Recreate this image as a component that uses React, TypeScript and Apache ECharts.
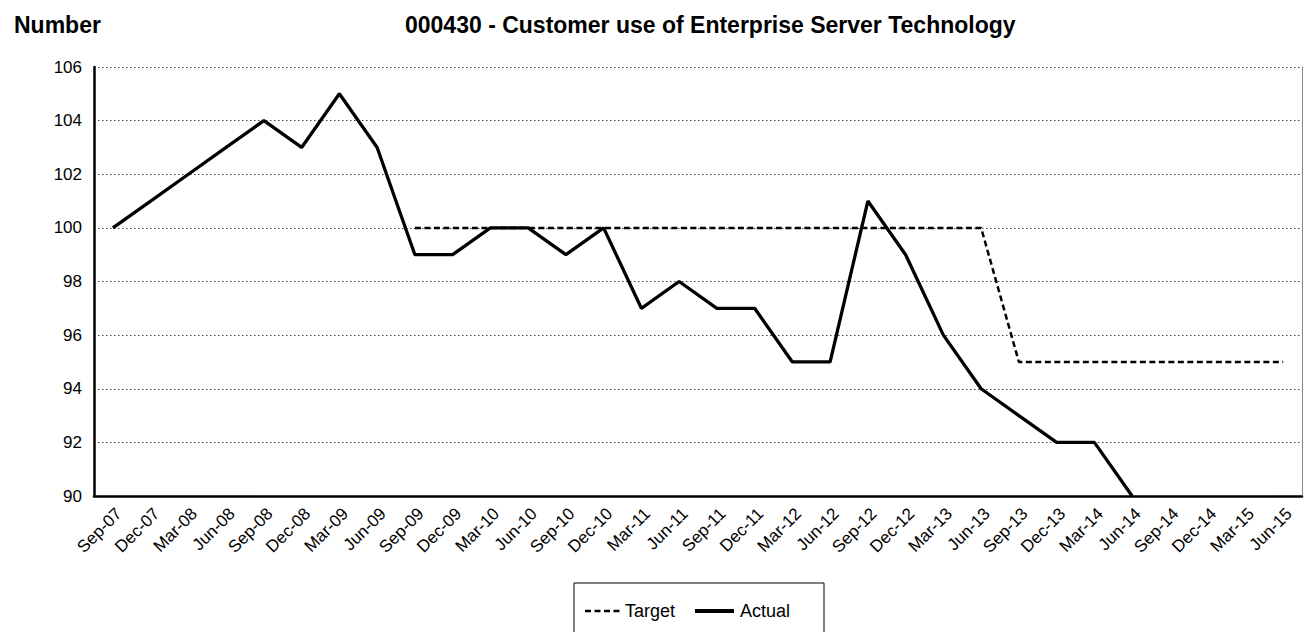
import React, { useEffect, useRef } from "react";
import * as echarts from "echarts";

const categories = [
  "Sep-07", "Dec-07", "Mar-08", "Jun-08", "Sep-08", "Dec-08", "Mar-09", "Jun-09",
  "Sep-09", "Dec-09", "Mar-10", "Jun-10", "Sep-10", "Dec-10", "Mar-11", "Jun-11",
  "Sep-11", "Dec-11", "Mar-12", "Jun-12", "Sep-12", "Dec-12", "Mar-13", "Jun-13",
  "Sep-13", "Dec-13", "Mar-14", "Jun-14", "Sep-14", "Dec-14", "Mar-15", "Jun-15",
];

const targetValues: (number | null)[] = [
  null, null, null, null, null, null, null, null,
  100, 100, 100, 100, 100, 100, 100, 100,
  100, 100, 100, 100, 100, 100, 100, 100,
  95, 95, 95, 95, 95, 95, 95, 95,
];

const actualValues: (number | null)[] = [
  100, 101, 102, 103, 104, 103, 105, 103,
  99, 99, 100, 100, 99, 100, 97, 98,
  97, 97, 95, 95, 101, 99, 96, 94,
  93, 92, 92, 90, null, null, null, null,
];

const yTicks = { min: 90, max: 106, interval: 2 };

const FONT = "Liberation Sans, Arial, sans-serif";
const DASH = [6, 3.5];

export default function App() {
  const ref = useRef<HTMLDivElement>(null);
  useEffect(() => {
    if (!ref.current) return;
    const chart = echarts.init(ref.current, undefined, { renderer: "svg" });
    chart.setOption({
      animation: false,
      backgroundColor: "#fff",
      title: [
        {
          text: "Number",
          left: 9,
          top: 8,
          textStyle: { fontFamily: FONT, fontSize: 23, fontWeight: "bold", color: "#000" },
        },
        {
          text: "000430 - Customer use of Enterprise Server Technology",
          left: 400,
          top: 8,
          textStyle: { fontFamily: FONT, fontSize: 23, fontWeight: "bold", color: "#000" },
        },
      ],
      graphic: [
        {
          type: "rect",
          shape: { x: 574, y: 583, width: 250, height: 60 },
          style: { fill: "#fff", stroke: "#000", lineWidth: 1 },
        },
        {
          type: "line",
          shape: { x1: 585, y1: 611, x2: 621, y2: 611 },
          style: { stroke: "#000", lineWidth: 2.5, lineDash: DASH },
        },
        {
          type: "text",
          x: 625,
          y: 611,
          style: {
            text: "Target",
            fill: "#000",
            font: `18px ${FONT}`,
            verticalAlign: "middle",
            align: "left",
          },
        },
        {
          type: "line",
          shape: { x1: 695, y1: 611, x2: 734, y2: 611 },
          style: { stroke: "#000", lineWidth: 4 },
        },
        {
          type: "text",
          x: 740,
          y: 611,
          style: {
            text: "Actual",
            fill: "#000",
            font: `18px ${FONT}`,
            verticalAlign: "middle",
            align: "left",
          },
        },
      ],
      grid: { left: 94, right: 9, top: 67, bottom: 136, containLabel: false, show: false },
      xAxis: {
        type: "category",
        data: categories,
        boundaryGap: true,
        axisLine: { show: true, lineStyle: { color: "#000", width: 2.5 } },
        axisTick: { show: false },
        axisLabel: {
          rotate: 45,
          interval: 0,
          fontFamily: FONT,
          fontSize: 17,
          color: "#000",
          margin: 9,
          verticalAlign: "top",
        },
        splitLine: { show: false },
      },
      yAxis: [
        {
          type: "value",
          min: yTicks.min,
          max: yTicks.max,
          interval: yTicks.interval,
          axisLine: { show: true, lineStyle: { color: "#000", width: 2.5 } },
          axisTick: { show: false },
          axisLabel: { fontFamily: FONT, fontSize: 17, color: "#000", margin: 12 },
          splitLine: { show: true, lineStyle: { color: "#444", type: [1.5, 2.5], width: 1 } },
        },
        {
          type: "value",
          position: "right",
          min: yTicks.min,
          max: yTicks.max,
          interval: yTicks.interval,
          axisLine: { show: true, lineStyle: { color: "#888", width: 1 } },
          axisTick: { show: false },
          axisLabel: { show: false },
          splitLine: { show: false },
        },
      ],
      series: [
        {
          name: "Target",
          type: "line",
          data: targetValues,
          symbol: "none",
          connectNulls: false,
          lineStyle: { color: "#000", width: 2.5, type: DASH },
          itemStyle: { color: "#000" },
          z: 3,
        },
        {
          name: "Actual",
          type: "line",
          data: actualValues,
          symbol: "none",
          connectNulls: false,
          lineStyle: { color: "#000", width: 3.3 },
          itemStyle: { color: "#000" },
          z: 4,
        },
      ],
    });
    return () => chart.dispose();
  }, []);
  return (
    <div
      ref={ref}
      style={{ position: "fixed", left: 0, top: 0, width: 1311, height: 632 }}
    />
  );
}
